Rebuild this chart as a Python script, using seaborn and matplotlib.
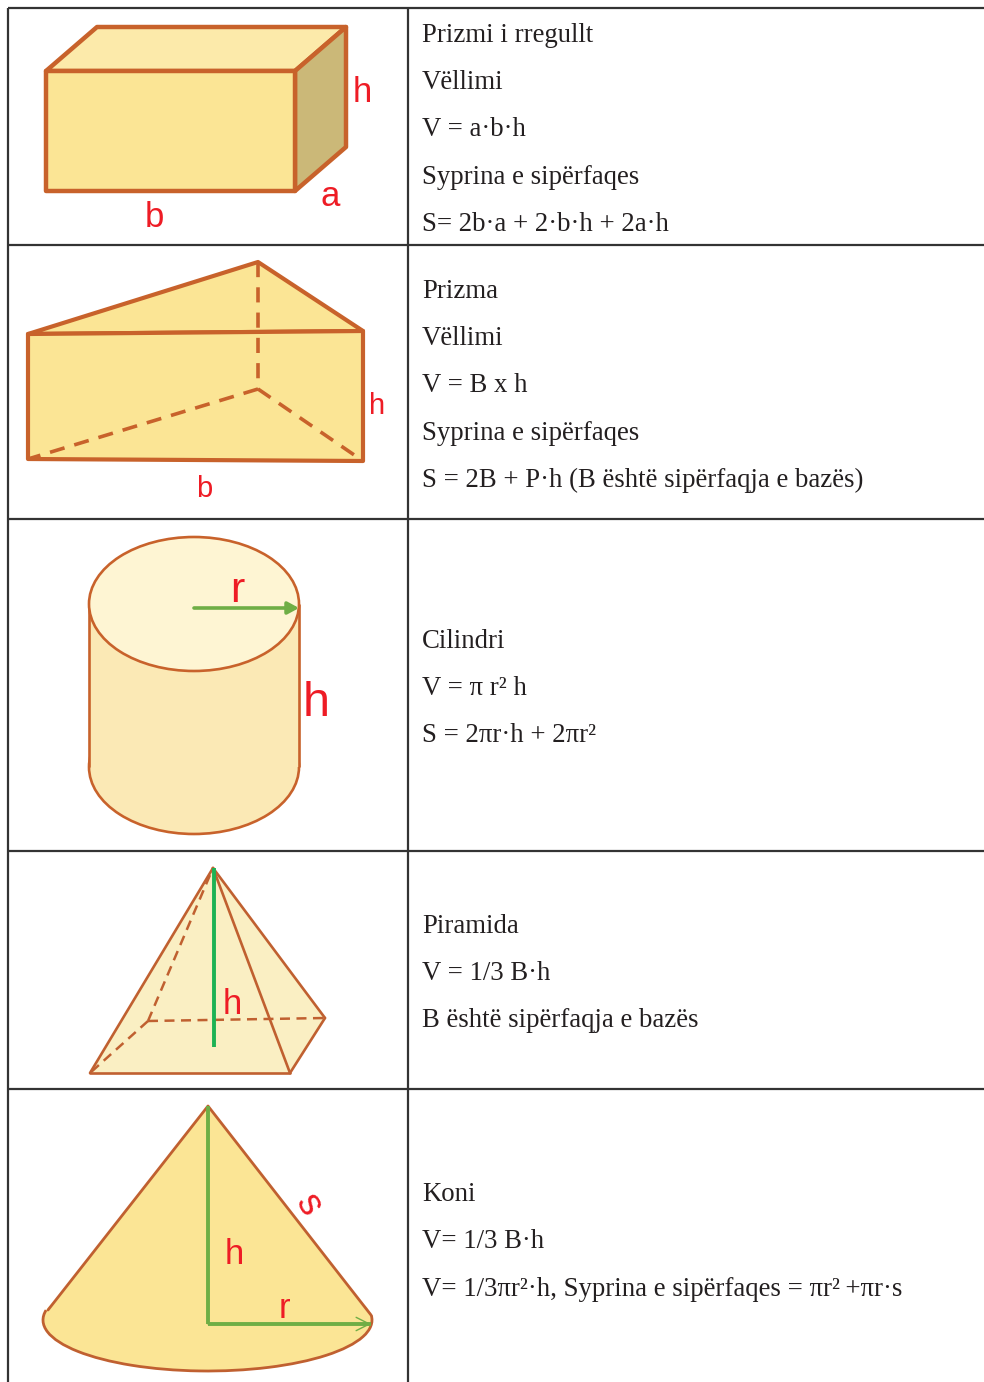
import matplotlib
matplotlib.use("Agg")
import matplotlib.pyplot as plt
from matplotlib.patches import Polygon, Ellipse, Rectangle, Arc
import pandas as pd
import seaborn as sns

# ---- table rules
row_rules = [8, 245, 519, 851, 1089]
col_rules = [8, 408]
page_w, page_h = 984, 1382

# ---- table text (text, baseline y)
text_x = 422
lines = [
    ("Prizmi i rregullt", 42), ("Vëllimi", 89), ("V = a·b·h", 136),
    ("Syprina e sipërfaqes", 184), ("S= 2b·a + 2·b·h + 2a·h", 231),
    ("Prizma", 298), ("Vëllimi", 345), ("V = B x h", 392),
    ("Syprina e sipërfaqes", 440), ("S = 2B + P·h (B është sipërfaqja e bazës)", 487),
    ("Cilindri", 648), ("V = π r² h", 695), ("S = 2πr·h + 2πr²", 742),
    ("Piramida", 933), ("V = 1/3 B·h", 980), ("B është sipërfaqja e bazës", 1027),
    ("Koni", 1201), ("V= 1/3 B·h", 1248), ("V= 1/3πr²·h, Syprina e sipërfaqes = πr²\u2009+πr·s", 1296),
]

# ---- box
box_front = [(46, 71), (295, 71), (295, 191), (46, 191)]
box_top = [(46, 71), (97, 27), (346, 27), (295, 71)]
box_side = [(295, 71), (346, 27), (346, 147), (295, 191)]

# ---- triangular prism
prism_front = [(28, 334), (363, 331), (363, 461), (28, 459)]
prism_top = [(28, 334), (258, 262), (363, 331)]
prism_dashes = [[(258, 262), (258, 389)], [(258, 389), (28, 459)], [(258, 389), (363, 461)]]

# ---- cylinder
cyl_cx, cyl_rx, cyl_ry, cyl_top, cyl_bottom = 194, 105, 67, 604, 767
cyl_arrow = [(194, 608), (299, 608)]

# ---- pyramid
pyr_outline = [(213, 868), (90, 1073), (290, 1073), (325, 1018)]
pyr_edges = [[(213, 868), (90, 1073)], [(213, 868), (290, 1073)], [(213, 868), (325, 1018)],
             [(90, 1073), (290, 1073)], [(290, 1073), (325, 1018)]]
pyr_dashes = [[(148, 1021), (213, 868)], [(148, 1021), (90, 1073)], [(148, 1021), (325, 1018)]]
pyr_height = [(214, 868), (214, 1047)]

# ---- cone
cone_apex, cone_left, cone_right = (208, 1106), (48, 1310), (371, 1315)
cone_cx, cone_cy, cone_rx, cone_ry = 207.5, 1320, 164.5, 51
cone_arc_from, cone_arc_to = -1.7, 183.5
cone_height = [(208, 1106), (208, 1324)]
cone_radius = [(208, 1324), (371, 1324)]

# ---- red labels (text, x, y centre, size, rotation)
labels = [
    ("h", 362, 92, 25, 0), ("a", 330, 196, 25, 0), ("b", 154, 217, 25, 0),
    ("h", 377, 406, 21, 0), ("b", 204, 489, 21, 0),
    ("r", 237, 591, 31, 0), ("h", 316, 703, 35, 0),
    ("h", 232, 1004, 25, 0),
    ("h", 234, 1254, 25, 0), ("r", 284, 1309, 25, 0), ("s", 308, 1205, 27, -60),
]

STROKE = "#C8622B"
THIN = "#C06030"
RED = "#EE1C25"
GREEN = "#6FAE45"
INK = "#231F20"

sns.set_theme(style="white")
plt.rcParams["font.family"] = ["Liberation Serif", "DejaVu Sans"]

fig = plt.figure(figsize=(page_w / 100, page_h / 100), dpi=100, facecolor="white")
ax = fig.add_axes([0, 0, 1, 1])
ax.set_xlim(0, page_w)
ax.set_ylim(page_h, 0)
ax.axis("off")


def seg(points, color=STROKE, lw=2.0, ls="-", z=3, cap="round"):
    df = pd.DataFrame(points, columns=["x", "y"])
    sns.lineplot(data=df, x="x", y="y", estimator=None, sort=False, color=color, lw=lw,
                 linestyle=ls, ax=ax, zorder=z, legend=False, solid_capstyle=cap,
                 dash_capstyle="butt")


def poly(points, fc, ec="none", lw=0, z=2):
    ax.add_patch(Polygon(points, closed=True, facecolor=fc, edgecolor=ec, linewidth=lw,
                         joinstyle="round", zorder=z))


def arrow(points, color=GREEN, lw=2.6, style="-|>,head_length=0.55,head_width=0.3"):
    ax.annotate("", xy=points[1], xytext=points[0], zorder=6,
                arrowprops=dict(arrowstyle=style, color=color, lw=lw, shrinkA=0, shrinkB=0))


# table
for y in row_rules:
    seg([(col_rules[0], y), (page_w, y)], color="#333333", lw=1.6, z=1, cap="butt")
for x in col_rules:
    seg([(x, row_rules[0]), (x, page_h)], color="#333333", lw=1.6, z=1, cap="butt")

for txt, y in lines:
    ax.text(text_x, y, txt, fontsize=19.25, color=INK, va="baseline", ha="left")

# box
poly(box_top, "#FCEAAA", STROKE, 3.2)
poly(box_side, "#CBB878", STROKE, 3.2)
poly(box_front, "#FBE595", STROKE, 3.2)

# triangular prism
poly(prism_top, "#FBE595", STROKE, 3.0)
poly(prism_front, "#FBE595", STROKE, 3.0)
for d in prism_dashes:
    seg(d, lw=2.6, ls=(0, (4.2, 2.8)), z=4)

# cylinder
ax.add_patch(Ellipse((cyl_cx, cyl_bottom), 2 * cyl_rx, 2 * cyl_ry, facecolor="#FBE9B5",
                     edgecolor=STROKE, linewidth=1.9, zorder=2))
ax.add_patch(Rectangle((cyl_cx - cyl_rx, cyl_top), 2 * cyl_rx, cyl_bottom - cyl_top,
                       facecolor="#FBE9B5", edgecolor="none", zorder=2.1))
seg([(cyl_cx - cyl_rx, cyl_top), (cyl_cx - cyl_rx, cyl_bottom)], lw=1.9, z=2.2, cap="butt")
seg([(cyl_cx + cyl_rx, cyl_top), (cyl_cx + cyl_rx, cyl_bottom)], lw=1.9, z=2.2, cap="butt")
ax.add_patch(Ellipse((cyl_cx, cyl_top), 2 * cyl_rx, 2 * cyl_ry, facecolor="#FEF5D3",
                     edgecolor=STROKE, linewidth=1.9, zorder=2.3))
arrow(cyl_arrow)

# pyramid
poly(pyr_outline, "#FAEFC3")
for e in pyr_edges:
    seg(e, color=THIN, lw=1.9)
for d in pyr_dashes:
    seg(d, color=THIN, lw=1.8, ls=(0, (4.0, 2.6)))
seg(pyr_height, color="#1DB254", lw=2.8, z=4, cap="butt")

# cone
ax.add_patch(Ellipse((cone_cx, cone_cy), 2 * cone_rx, 2 * cone_ry, facecolor="#FBE595",
                     edgecolor="none", zorder=2))
ax.add_patch(Arc((cone_cx, cone_cy), 2 * cone_rx, 2 * cone_ry, theta1=cone_arc_from,
                 theta2=cone_arc_to, edgecolor=THIN, linewidth=2.0, zorder=3))
poly([cone_apex, cone_left, cone_right], "#FBE595", z=2.1)
seg([cone_left, cone_apex, cone_right], color=THIN, lw=2.0)
seg(cone_height, color=GREEN, lw=2.8, z=4, cap="butt")
seg(cone_radius, color=GREEN, lw=2.8, z=4, cap="butt")
arrow(cone_radius, lw=1.0, style="->,head_length=0.8,head_width=0.4")

# red labels
for txt, x, y, size, rot in labels:
    ax.text(x, y, txt, fontsize=size, color=RED, ha="center", va="center", rotation=rot,
            family=["Liberation Sans", "DejaVu Sans"], zorder=7)

fig.savefig("out.png", dpi=100, facecolor="white")
